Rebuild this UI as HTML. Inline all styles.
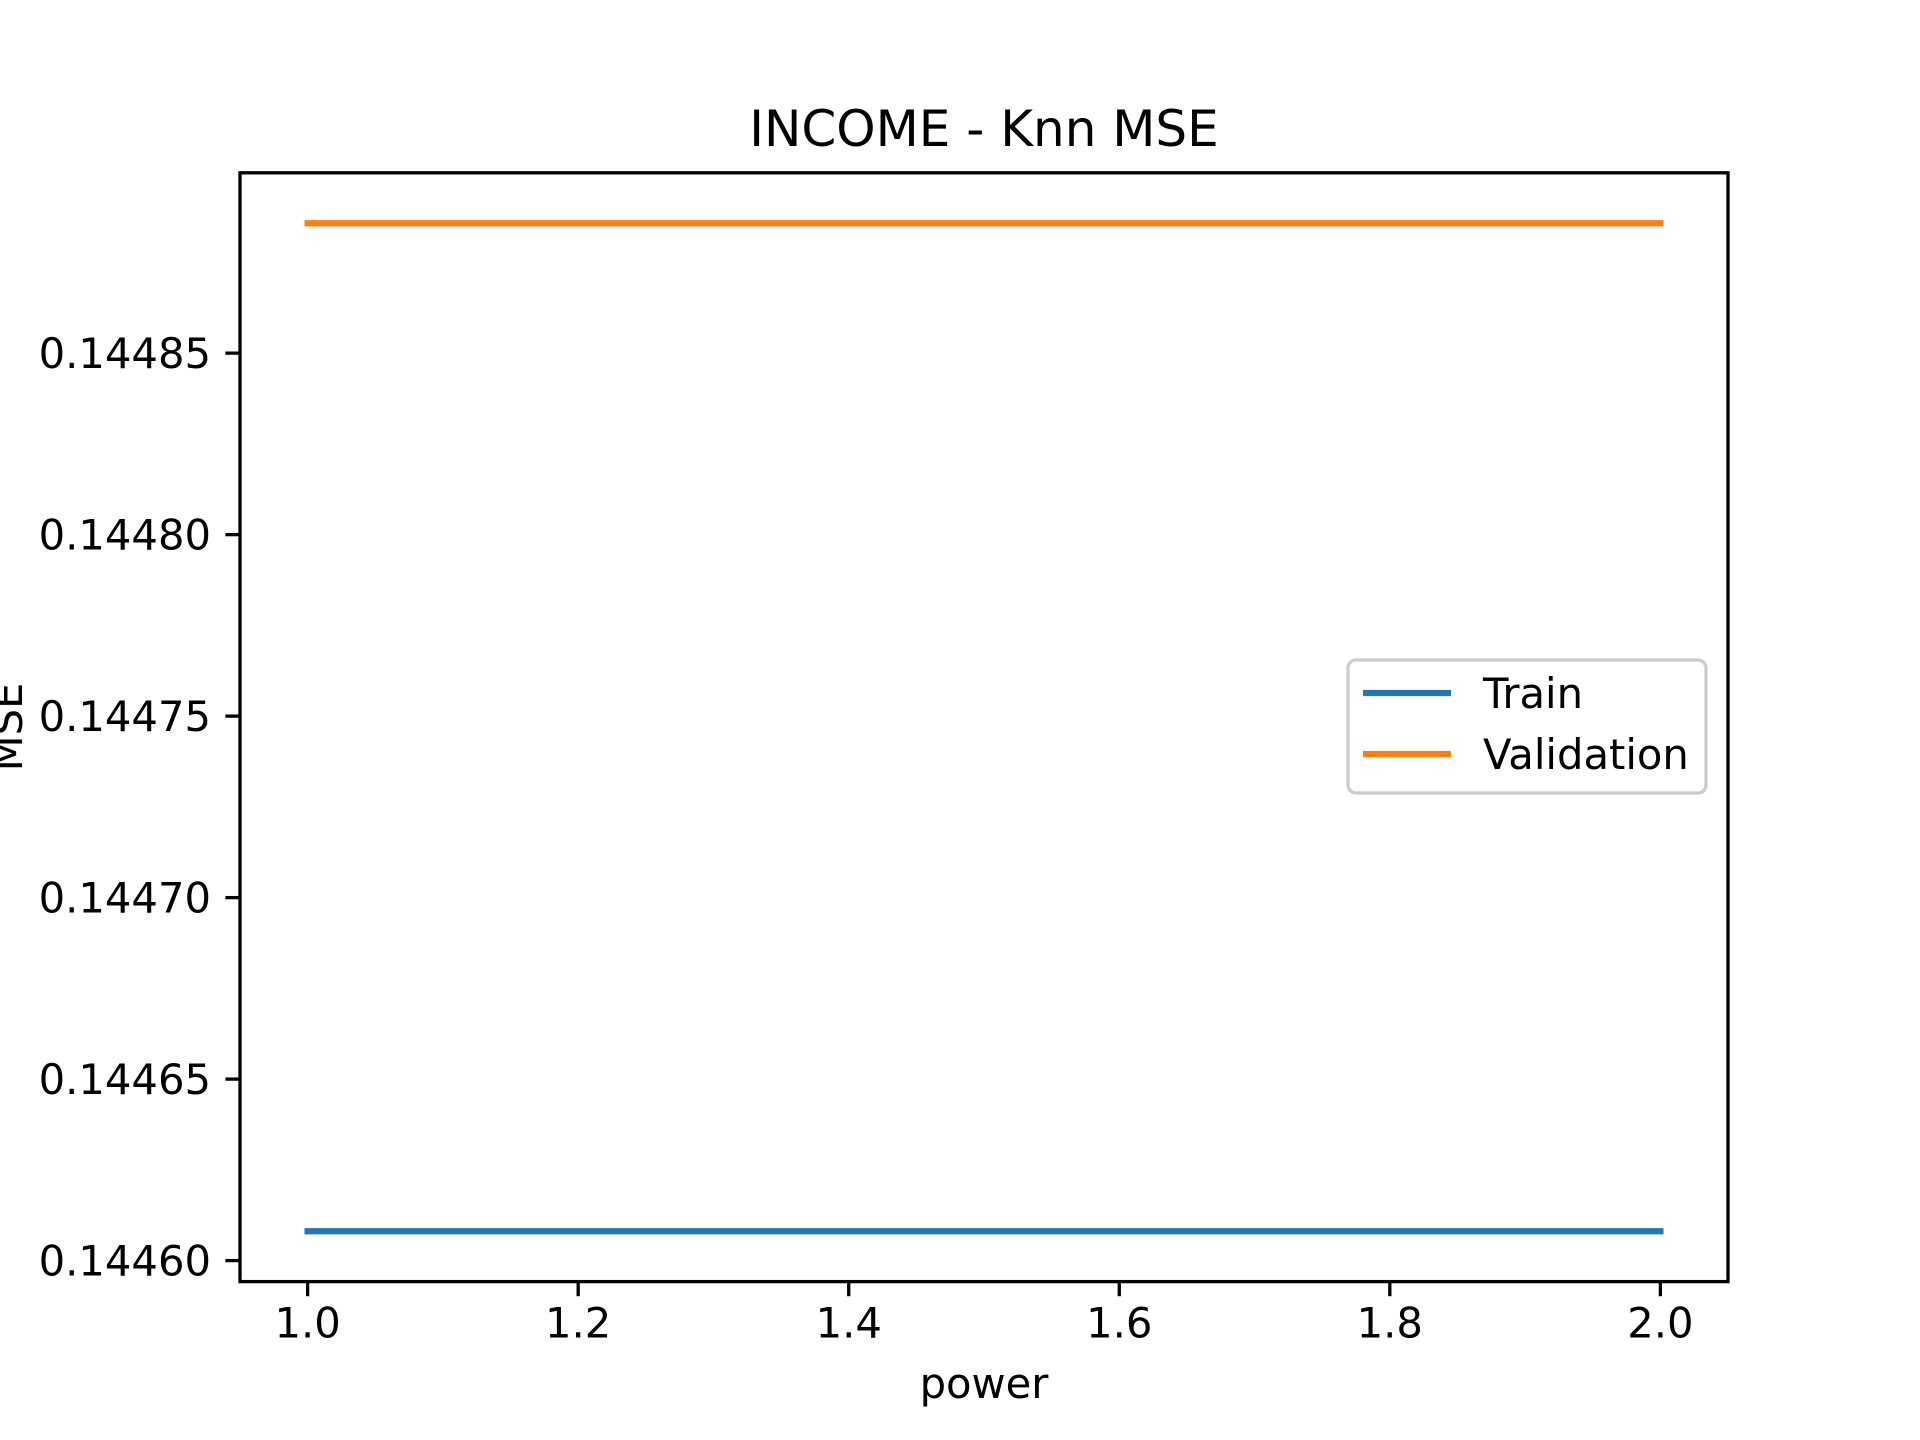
<!DOCTYPE html>
<html><head><meta charset="utf-8"><style>
html,body{margin:0;padding:0;background:#fff}
svg{display:block;font-family:"DejaVu Sans","Liberation Sans",sans-serif}
</style></head><body>
<svg id="chart" width="1920" height="1440" viewBox="0 0 1920 1440" xmlns="http://www.w3.org/2000/svg">
<rect width="1920" height="1440" fill="#fff"/>
<text x="984" y="146" font-size="50" text-anchor="middle">INCOME - Knn MSE</text>
<text x="984" y="1398" font-size="41.7" text-anchor="middle">power</text>
<text transform="translate(22,727) rotate(-90)" font-size="41.7" text-anchor="middle">MSE</text>
<g id="marks"></g>
<rect x="240" y="172.8" width="1488" height="1108.8" fill="none" stroke="#000" stroke-width="3.3"/>
<g>
<rect x="1348" y="660" width="358" height="133" rx="8" fill="#fff" fill-opacity="0.8" stroke="#ccc" stroke-width="3.3"/>
<line x1="1363" y1="693" x2="1451" y2="693" stroke="#1f77b4" stroke-width="6.25"/>
<text x="1483" y="708" font-size="41.7">Train</text>
<line x1="1363" y1="754" x2="1451" y2="754" stroke="#ff7f0e" stroke-width="6.25"/>
<text x="1483" y="769" font-size="41.7">Validation</text>
</g>
</svg>
<script>
const power = [1.0, 2.0];
const trainMSE = [0.1446081, 0.1446081];
const valMSE = [0.1448858, 0.1448858];
const xTicks = [1.0, 1.2, 1.4, 1.6, 1.8, 2.0];
const xTickLabels = ["1.0","1.2","1.4","1.6","1.8","2.0"];
const yTicks = [0.14460, 0.14465, 0.14470, 0.14475, 0.14480, 0.14485];
const yTickLabels = ["0.14460","0.14465","0.14470","0.14475","0.14480","0.14485"];

const L=240,R=1728,T=172.8,B=1281.6;
const allY=trainMSE.concat(valMSE);
const ymn=Math.min(...allY), ymx=Math.max(...allY), yr=ymx-ymn;
const y0=ymn-0.05*yr, y1=ymx+0.05*yr;
const xmn=Math.min(...power), xmx=Math.max(...power), xr=xmx-xmn;
const x0=xmn-0.05*xr, x1=xmx+0.05*xr;
const sx=v=>L+(v-x0)/(x1-x0)*(R-L);
const sy=v=>B-(v-y0)/(y1-y0)*(B-T);
const NS="http://www.w3.org/2000/svg";
const g=document.getElementById('marks');
function mk(tag,attrs){const e=document.createElementNS(NS,tag);for(const k in attrs)e.setAttribute(k,attrs[k]);g.appendChild(e);return e;}

xTicks.forEach((v,i)=>{
  const t=mk('line',{x1:sx(v),x2:sx(v),y1:B,y2:B+14.6,stroke:'#000','stroke-width':3.3});
  
  
  const l=mk('text',{x:sx(v),y:B+56,'font-size':41.7,'text-anchor':'middle'});
  l.textContent=xTickLabels[i];
  
  
});
yTicks.forEach((v,i)=>{
  const t=mk('line',{x1:L-14.6,x2:L,y1:sy(v),y2:sy(v),stroke:'#000','stroke-width':3.3});
  
  
  const l=mk('text',{x:L-29,y:sy(v)+15,'font-size':41.7,'text-anchor':'end'});
  l.textContent=yTickLabels[i];
  
  
});
function series(vals,color,name){
  const p=mk('polyline',{points:power.map((x,i)=>sx(x)+','+sy(vals[i])).join(' '),fill:'none',stroke:color,'stroke-width':6.25,'stroke-linecap':'square'});
  
  
}
series(trainMSE,'#1f77b4','train-line');
series(valMSE,'#ff7f0e','validation-line');
</script>
</body></html>
